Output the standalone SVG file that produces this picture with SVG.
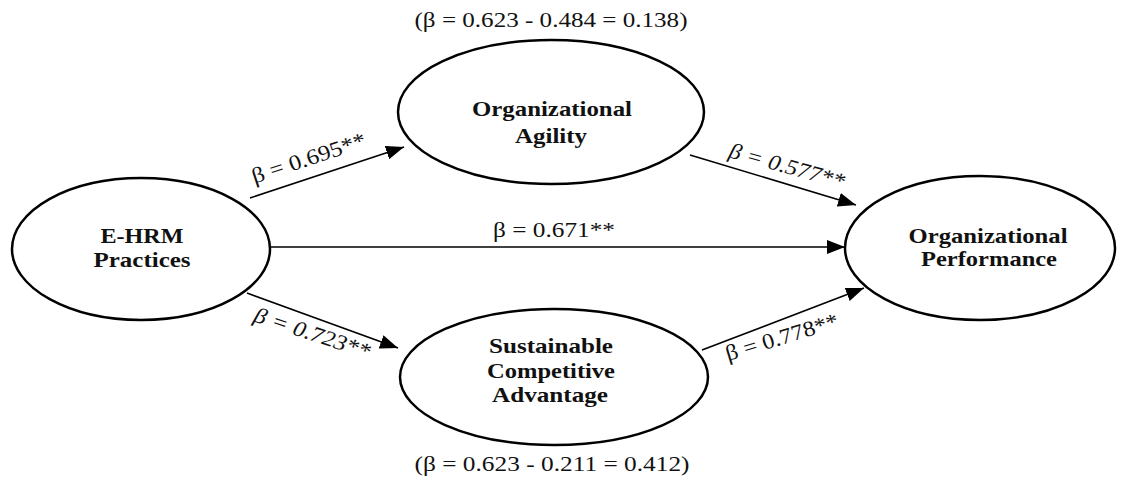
<svg xmlns="http://www.w3.org/2000/svg" width="1125" height="483" viewBox="0 0 1125 483">
<style>
.node ellipse{fill:#fff;stroke:#000;stroke-width:2.5}
.nt{font-family:"Liberation Serif",serif;font-weight:bold;font-size:22px;text-anchor:middle;fill:#111}
.lb{font-family:"Liberation Serif",serif;font-size:22px;fill:#111;text-anchor:middle}
.it{font-style:italic}
.conn line{stroke:#000;stroke-width:1.6}
</style>
<defs>
<marker id="ahb" viewBox="0 0 10 10" refX="10" refY="5" markerWidth="18" markerHeight="14" markerUnits="userSpaceOnUse" orient="auto" preserveAspectRatio="none">
<path d="M0,0 L10,5 L0,10 z" fill="#000"/>
</marker>
</defs>
<rect width="1125" height="483" fill="#fff"/>
<g class="conn">
<line x1="250" y1="198" x2="404" y2="147" marker-end="url(#ahb)"/>
<line x1="247" y1="293" x2="398" y2="348" marker-end="url(#ahb)"/>
<line x1="690" y1="155" x2="856" y2="205" marker-end="url(#ahb)"/>
<line x1="702" y1="350" x2="864" y2="288" marker-end="url(#ahb)"/>
<line x1="270" y1="247" x2="845" y2="247" marker-end="url(#ahb)"/>
</g>
<g id="n-ehrm" class="node">
<ellipse cx="141" cy="249" rx="129" ry="71"/>
<text class="nt" x="142" y="243" textLength="83" lengthAdjust="spacingAndGlyphs">E-HRM</text>
<text class="nt" x="142" y="267" textLength="97" lengthAdjust="spacingAndGlyphs">Practices</text>
</g>
<g id="n-agility" class="node">
<ellipse cx="551" cy="112" rx="153" ry="72"/>
<text class="nt" x="552" y="116" textLength="160" lengthAdjust="spacingAndGlyphs">Organizational</text>
<text class="nt" x="551" y="143" textLength="72" lengthAdjust="spacingAndGlyphs">Agility</text>
</g>
<g id="n-sca" class="node">
<ellipse cx="554" cy="377" rx="154" ry="68"/>
<text class="nt" x="551" y="353" textLength="124" lengthAdjust="spacingAndGlyphs">Sustainable</text>
<text class="nt" x="551" y="378" textLength="128" lengthAdjust="spacingAndGlyphs">Competitive</text>
<text class="nt" x="550" y="402" textLength="116" lengthAdjust="spacingAndGlyphs">Advantage</text>
</g>
<g id="n-perf" class="node">
<ellipse cx="980" cy="248" rx="135" ry="72"/>
<text class="nt" x="988" y="243" textLength="159" lengthAdjust="spacingAndGlyphs">Organizational</text>
<text class="nt" x="989" y="266" textLength="136" lengthAdjust="spacingAndGlyphs">Performance</text>
</g>
<g id="labels">
<text class="lb" transform="translate(311,165) rotate(-18.4)" textLength="119" lengthAdjust="spacingAndGlyphs">β = 0.695**</text>
<text class="lb it" transform="translate(310,340) rotate(18.4)" textLength="121" lengthAdjust="spacingAndGlyphs">β = 0.723**</text>
<text class="lb it" transform="translate(785,173) rotate(15.5)" textLength="119" lengthAdjust="spacingAndGlyphs">β = 0.577**</text>
<text class="lb" transform="translate(784,344) rotate(-17)" textLength="117" lengthAdjust="spacingAndGlyphs">β = 0.778**</text>
<text class="lb" x="554" y="237" textLength="122" lengthAdjust="spacingAndGlyphs">β = 0.671**</text>
<text class="lb" x="551" y="27" textLength="273" lengthAdjust="spacingAndGlyphs">(β = 0.623 - 0.484 = 0.138)</text>
<text class="lb" x="552" y="471" textLength="275" lengthAdjust="spacingAndGlyphs">(β = 0.623 - 0.211 = 0.412)</text>
</g>
</svg>
